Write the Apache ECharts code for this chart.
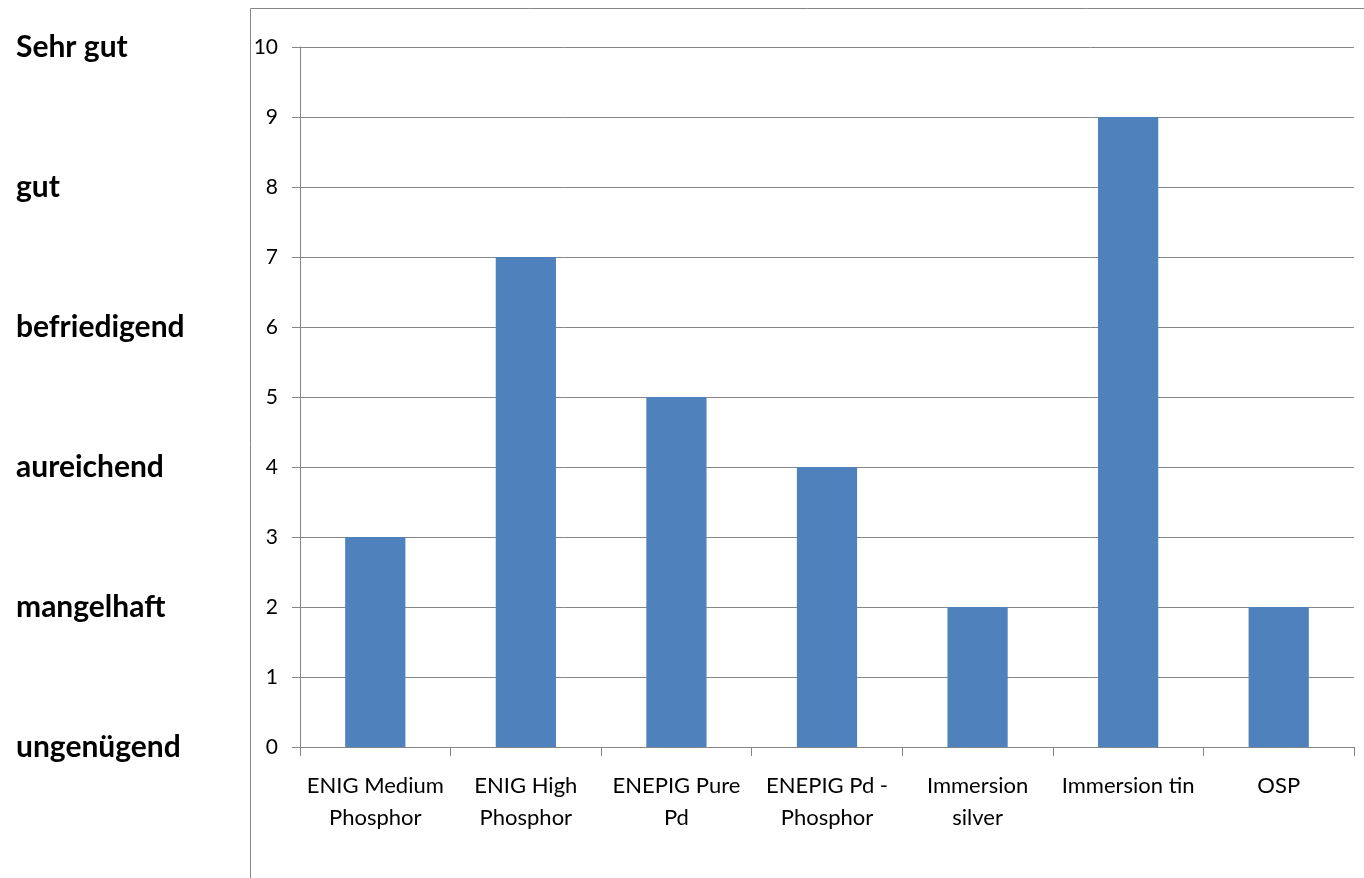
<!DOCTYPE html>
<html>
<head>
<meta charset="utf-8">
<script src="https://cdn.jsdelivr.net/npm/echarts@6/dist/echarts.min.js"></script>
<style>html,body{margin:0;padding:0;background:#fff}#c{width:1364px;height:878px}</style>
</head>
<body>
<div id="c"></div>
<script>
const categories = ["ENIG Medium\nPhosphor", "ENIG High\nPhosphor", "ENEPIG Pure\nPd", "ENEPIG Pd -\nPhosphor", "Immersion\nsilver", "Immersion tin", "OSP"];
const values = [3, 7, 5, 4, 2, 9, 2];
const gradeLabels = {10: "Sehr gut", 8: "gut", 6: "befriedigend", 4: "aureichend", 2: "mangelhaft", 0: "ungenügend"};

const chart = echarts.init(document.getElementById('c'), null, {renderer: 'canvas'});
const gray = '#868686';
chart.setOption({
  animation: false,
  graphic: [{
    type: 'rect', left: 248, top: 6, shape: {width: 1200, height: 1000},
    style: {fill: 'none', stroke: gray, lineWidth: 1}, silent: true, z: -1
  }],
  grid: {left: 300, right: 10, top: 47, bottom: 131},
  xAxis: {
    type: 'category', data: categories,
    axisLine: {lineStyle: {color: gray, width: 1}},
    axisTick: {show: true, length: 9, lineStyle: {color: gray}},
    axisLabel: {color: '#000', fontFamily: 'Lato', fontSize: 22, lineHeight: 32, margin: 23, interval: 0}
  },
  yAxis: [{
    type: 'value', min: 0, max: 10, interval: 1,
    axisLine: {show: true, lineStyle: {color: gray, width: 1}},
    axisTick: {show: true, length: 8, lineStyle: {color: gray}},
    splitLine: {show: true, lineStyle: {color: gray, width: 1}},
    axisLabel: {color: '#000', fontFamily: 'Lato', fontSize: 21, margin: 22}
  }, {
    type: 'value', min: 0, max: 10, interval: 2, position: 'left', offset: 284,
    axisLine: {show: false}, axisTick: {show: false}, splitLine: {show: false},
    axisLabel: {
      color: '#000', fontFamily: 'Lato', fontWeight: 'bold', fontSize: 30, margin: 0, align: 'left',
      formatter: v => gradeLabels[v] || ''
    }
  }],
  series: [{
    type: 'bar', data: values, barWidth: '40%',
    itemStyle: {color: '#4F81BD'}
  }]
});
</script>
</body>
</html>
